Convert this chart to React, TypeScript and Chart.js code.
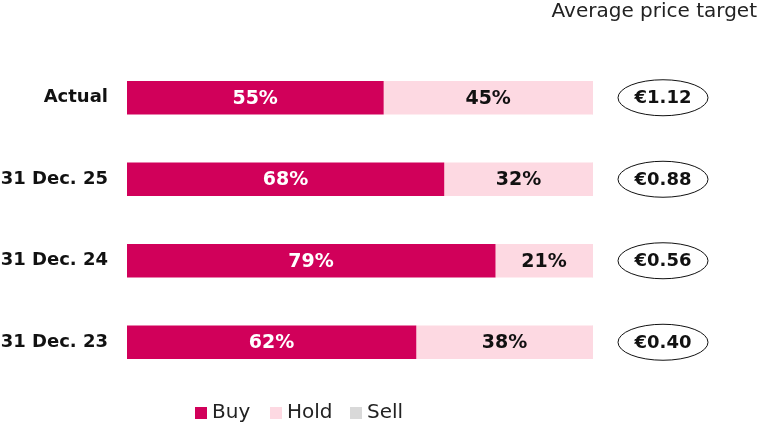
import { useEffect, useRef } from "react"
import { Chart, registerables } from "chart.js"

Chart.register(...registerables)

const categories = ["Actual", "31 Dec. 25", "31 Dec. 24", "31 Dec. 23"]
const buyValues = [55, 68, 79, 62]
const holdValues = [45, 32, 21, 38]
const sellValues = [0, 0, 0, 0]
const priceTargets = ["€1.12", "€0.88", "€0.56", "€0.40"]

const BUY = "#d1005a"
const HOLD = "#fdd9e2"
const SELL = "#d9d9d9"
const FONT = "'DejaVu Sans', sans-serif"

export default function App() {
  const chartRef = useRef<HTMLCanvasElement>(null)
  const chartInstance = useRef<Chart | null>(null)

  useEffect(() => {
    if (!chartRef.current) return
    if (chartInstance.current) chartInstance.current.destroy()
    const ctx = chartRef.current.getContext("2d")
    if (!ctx) return

    // segment labels, price target ellipses, header and legend
    const extras = {
      id: "extras",
      afterDatasetsDraw(chart: any) {
        const c = chart.ctx
        c.save()
        c.textBaseline = "middle"
        c.textAlign = "center"
        c.font = `bold 19px ${FONT}`
        chart.data.datasets.forEach((ds: any, di: number) => {
          const meta = chart.getDatasetMeta(di)
          meta.data.forEach((bar: any, i: number) => {
            const v = ds.data[i]
            if (!v) return
            const x = (bar.x + bar.base) / 2
            c.fillStyle = di === 0 ? "#ffffff" : "#111111"
            c.fillText(v + "%", x, bar.y + 1)
          })
        })

        // price targets
        const yScale = chart.scales.y
        const cx = chart.chartArea.right + 70
        c.font = `bold 18px ${FONT}`
        priceTargets.forEach((t, i) => {
          const y = yScale.getPixelForValue(i)
          c.beginPath()
          c.ellipse(cx, y, 45, 18, 0, 0, Math.PI * 2)
          c.strokeStyle = "#111111"
          c.lineWidth = 1
          c.stroke()
          c.fillStyle = "#111111"
          c.fillText(t, cx, y + 1)
        })

        // header
        c.font = `20px ${FONT}`
        c.textAlign = "right"
        c.fillStyle = "#222222"
        c.fillText("Average price target", 757, 12)

        // legend
        c.textAlign = "left"
        c.font = `20px ${FONT}`
        const legendX = [195, 270, 350]
        chart.data.datasets.forEach((ds: any, di: number) => {
          const lx = legendX[di]
          c.fillStyle = ds.backgroundColor
          c.fillRect(lx, 407, 12, 12)
          c.fillStyle = "#222222"
          c.fillText(ds.label, lx + 17, 413)
        })
        c.restore()
      },
    }

    chartInstance.current = new Chart(ctx, {
      type: "bar",
      data: {
        labels: categories,
        datasets: [
          { label: "Buy", data: buyValues, backgroundColor: BUY, barThickness: 33 },
          { label: "Hold", data: holdValues, backgroundColor: HOLD, barThickness: 33 },
          { label: "Sell", data: sellValues, backgroundColor: SELL, barThickness: 33 },
        ],
      },
      options: {
        indexAxis: "y",
        responsive: true,
        maintainAspectRatio: false,
        animation: false,
        layout: { padding: { left: 0, right: 167, top: 57, bottom: 42 } },
        plugins: {
          legend: { display: false },
          tooltip: { enabled: false },
        },
        scales: {
          x: { stacked: true, min: 0, max: 100, display: false },
          y: {
            stacked: true,
            grid: { display: false, drawTicks: false },
            border: { display: false },
            ticks: {
              color: "#111111",
              padding: 19,
              font: { family: FONT, size: 18, weight: "bold" },
            },
            afterFit(scale: any) {
              scale.width = 127
            },
          },
        },
      },
      plugins: [extras],
    } as any)

    return () => {
      if (chartInstance.current) chartInstance.current.destroy()
    }
  }, [])

  return (
    <div style={{ position: "fixed", left: 0, top: 0, width: 760, height: 425, background: "#fff" }}>
      <canvas ref={chartRef} />
    </div>
  )
}
